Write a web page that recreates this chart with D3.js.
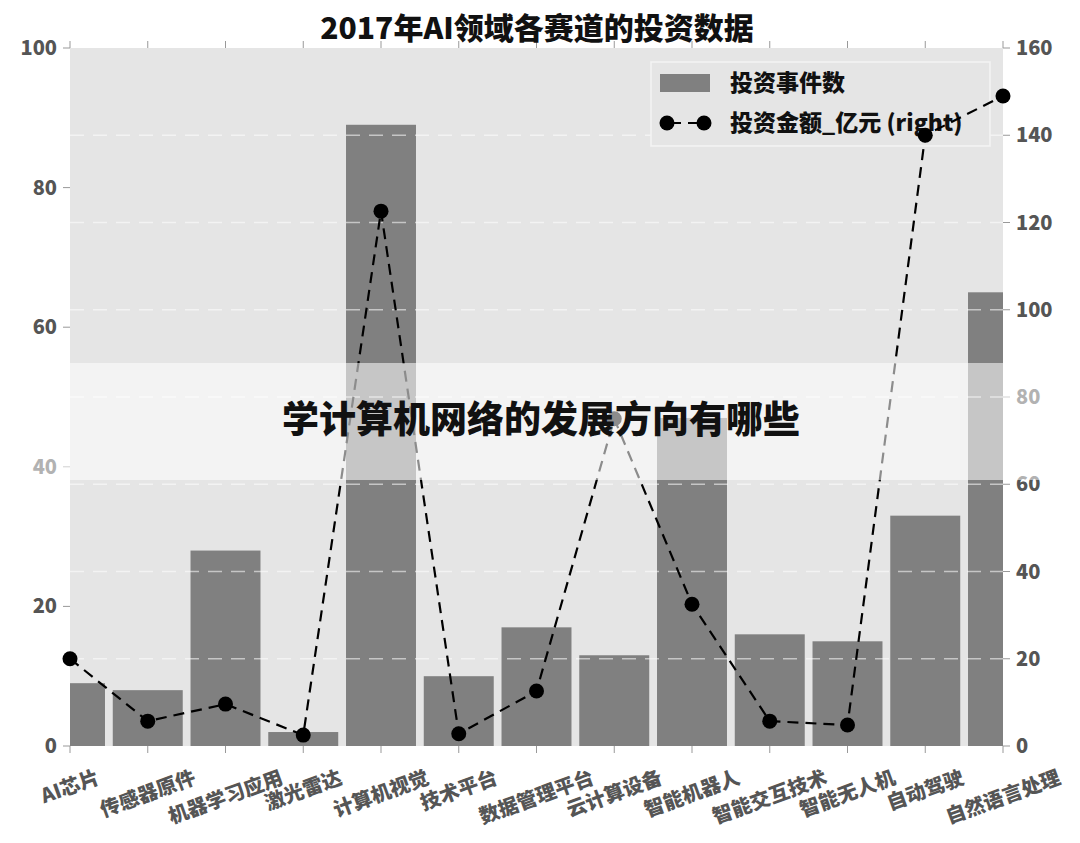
<!DOCTYPE html>
<html><head><meta charset="utf-8">
<script src="https://cdn.jsdelivr.net/npm/d3@7"></script>
<style>body{margin:0;background:#fff;} svg{display:block;}</style>
</head><body>
<svg id="c" width="1080" height="843"></svg>
<script>
const categories = ["AI芯片","传感器原件","机器学习应用","激光雷达","计算机视觉","技术平台","数据管理平台","云计算设备","智能机器人","智能交互技术","智能无人机","自动驾驶","自然语言处理"];
const eventCounts = [9,8,28,2,89,10,17,13,47,16,15,33,65];
const amounts = [20,5.7,9.6,2.5,122.6,2.8,12.6,75,32.5,5.7,4.8,140,149];
const leftTicks = [0,20,40,60,80,100];
const rightTicks = [0,20,40,60,80,100,120,140,160];
const gridTicks = [20,40,60,80,100,120,140];
const title = "2017年AI领域各赛道的投资数据";
const legendLabels = ["投资事件数","投资金额_亿元 (right)"];
const overlayText = "学计算机网络的发展方向有哪些";

const FONT = "'Noto Sans CJK SC','Noto Sans',sans-serif";
const svg = d3.select("#c");
const L = 70, R = 1003, T = 48, B = 746;

const x = d3.scalePoint().domain(categories).range([L, R]);
const yL = d3.scaleLinear().domain([0, 100]).range([B, T]);
const yR = d3.scaleLinear().domain([0, 160]).range([B, T]);
const barW = x.step() * 0.9;

svg.append("defs").append("clipPath").attr("id", "clip")
  .append("rect").attr("x", L).attr("y", T).attr("width", R - L).attr("height", B - T);

// background
svg.append("rect").attr("x", L).attr("y", T).attr("width", R - L).attr("height", B - T).attr("fill", "#e5e5e5");

const plot = svg.append("g").attr("clip-path", "url(#clip)");
plot.selectAll("rect.bar").data(categories).join("rect").attr("class", "bar")
  .attr("x", d => x(d) - barW / 2).attr("width", barW)
  .attr("y", (d, i) => yL(eventCounts[i])).attr("height", (d, i) => B - yL(eventCounts[i]))
  .attr("fill", "#808080");

// grid lines (right axis)
plot.selectAll("line.grid").data(gridTicks).join("line").attr("class", "grid")
  .attr("x1", L).attr("x2", R).attr("y1", d => yR(d)).attr("y2", d => yR(d))
  .attr("stroke", "#fff").attr("stroke-opacity", 0.55).attr("stroke-width", 1.5)
  .attr("stroke-dasharray", "14,9");

// legend (below the line)
const lg = svg.append("g");
lg.append("rect").attr("x", 651).attr("y", 62).attr("width", 339).attr("height", 84)
  .attr("fill", "#e5e5e5").attr("stroke", "#f4f4f4").attr("stroke-width", 1.5);
lg.append("rect").attr("x", 660).attr("y", 74).attr("width", 50).attr("height", 18).attr("fill", "#808080");
lg.append("line").attr("x1", 667).attr("x2", 704).attr("y1", 123).attr("y2", 123)
  .attr("stroke", "#000").attr("stroke-width", 2.2).attr("stroke-dasharray", "11,7").attr("stroke-dashoffset", -3);
lg.append("circle").attr("cx", 667).attr("cy", 123).attr("r", 7.5).attr("fill", "#000");
lg.append("circle").attr("cx", 704).attr("cy", 123).attr("r", 7.5).attr("fill", "#000");
lg.selectAll("text").data(legendLabels).join("text")
  .attr("x", 730).attr("y", (d, i) => 83 + i * 40).attr("dy", "0.35em")
  .attr("font-family", FONT).attr("font-size", 23).attr("font-weight", 900).attr("fill", "#111")
  .text(d => d);

// line
const line = d3.line().x((d, i) => x(categories[i])).y(d => yR(d));
svg.append("path").datum(amounts).attr("d", line).attr("fill", "none")
  .attr("stroke", "#000").attr("stroke-width", 2.2).attr("stroke-dasharray", "11,7");
svg.selectAll("circle.pt").data(amounts).join("circle").attr("class", "pt")
  .attr("cx", (d, i) => x(categories[i])).attr("cy", d => yR(d)).attr("r", 7.5).attr("fill", "#000");

// axes
const tickColor = "#999";
const labelColor = "#555";
const gL = svg.append("g");
gL.selectAll("line").data(leftTicks).join("line")
  .attr("x1", L - 7).attr("x2", L).attr("y1", d => yL(d)).attr("y2", d => yL(d)).attr("stroke", tickColor);
gL.selectAll("text").data(leftTicks).join("text")
  .attr("x", L - 13).attr("y", d => yL(d)).attr("dy", "0.35em").attr("text-anchor", "end")
  .attr("font-family", FONT).attr("font-size", 20).attr("font-weight", 900).attr("fill", labelColor)
  .text(d => d);
const gR = svg.append("g");
gR.selectAll("line").data(rightTicks).join("line")
  .attr("x1", R).attr("x2", R + 7).attr("y1", d => yR(d)).attr("y2", d => yR(d)).attr("stroke", tickColor);
gR.selectAll("text").data(rightTicks).join("text")
  .attr("x", R + 13).attr("y", d => yR(d)).attr("dy", "0.35em").attr("text-anchor", "start")
  .attr("font-family", FONT).attr("font-size", 20).attr("font-weight", 900).attr("fill", labelColor)
  .text(d => d);
const gX = svg.append("g");
gX.selectAll("line.b").data(categories).join("line").attr("class", "b")
  .attr("x1", d => x(d)).attr("x2", d => x(d)).attr("y1", B).attr("y2", B + 7).attr("stroke", tickColor);
gX.selectAll("line.t").data(categories).join("line").attr("class", "t")
  .attr("x1", d => x(d)).attr("x2", d => x(d)).attr("y1", T).attr("y2", T - 7).attr("stroke", tickColor);

const ang = 20, rad = ang * Math.PI / 180;
gX.selectAll("text").data(categories).join("text")
  .attr("font-family", FONT).attr("font-size", 20).attr("font-weight", 900).attr("fill", labelColor)
  .attr("text-anchor", "middle").attr("dy", "0.35em")
  .text(d => d)
  .each(function (d) {
    const w = this.getComputedTextLength();
    const h = 18;
    const cy = 768 + (w * Math.sin(rad) + h * Math.cos(rad)) / 2;
    d3.select(this).attr("transform", `translate(${x(d)},${cy}) rotate(${-ang})`);
  });

// title
svg.append("text").attr("x", 537).attr("y", 28).attr("dy", "0.35em").attr("text-anchor", "middle")
  .attr("font-family", FONT).attr("font-size", 30).attr("font-weight", 900).attr("fill", "#111")
  .text(title);

// overlay band
svg.append("rect").attr("x", 0).attr("y", 363).attr("width", 1080).attr("height", 117)
  .attr("fill", "#fff").attr("fill-opacity", 0.55);
svg.append("text").attr("x", 541).attr("y", 420).attr("dy", "0.35em").attr("text-anchor", "middle")
  .attr("font-family", FONT).attr("font-size", 37).attr("font-weight", 900).attr("fill", "#111")
  .text(overlayText);
</script>
</body></html>
